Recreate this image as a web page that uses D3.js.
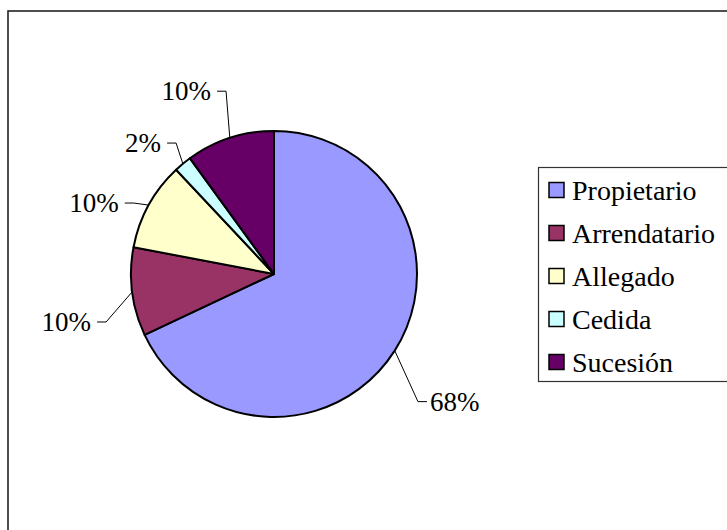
<!DOCTYPE html>
<html>
<head>
<meta charset="utf-8">
<script src="https://cdn.jsdelivr.net/npm/d3@7"></script>
</head>
<body style="margin:0;background:#fff">
<svg id="chart" width="727" height="530" style="font-family:'Liberation Serif'"></svg>
<script>
// ---- data ----
const categories = ["Propietario", "Arrendatario", "Allegado", "Cedida", "Sucesión"];
const values = [68, 10, 10, 2, 10];
const colors = ["#9999FF", "#993366", "#FFFFCC", "#CCFFFF", "#660066"];
// small nudges of each data label away from its default radial position
const labelNudge = [[-4, 28], [7.5, 24.7], [13.7, 18.6], [11.6, 12.3], [0.5, -6]];

// ---- layout ----
const W = 727, H = 530;
const cx = 274, cy = 274, R = 143;
const svg = d3.select("#chart");

// outer chart frame (extends beyond the visible area right/bottom)
svg.append("rect")
  .attr("x", 8).attr("y", 11)
  .attr("width", W + 20).attr("height", H + 20)
  .attr("fill", "#fff").attr("stroke", "#222").attr("stroke-width", 1.6);

const total = d3.sum(values);
const pie = d3.pie().sort(null).value(d => d.value).startAngle(0).endAngle(2 * Math.PI);
const data = pie(categories.map((c, i) => ({ name: c, value: values[i], color: colors[i], i })));
const arc = d3.arc().innerRadius(0).outerRadius(R);

const g = svg.append("g").attr("transform", `translate(${cx},${cy})`);
g.selectAll("path.slice")
  .data(data)
  .join("path")
  .attr("class", "slice")
  .attr("d", arc)
  .attr("fill", d => d.data.color)
  .attr("stroke", "#000")
  .attr("stroke-width", 2)
  .attr("stroke-linejoin", "round");

// data labels with leader lines
const pt = (a, r) => [r * Math.sin(a), -r * Math.cos(a)];
const fmt = v => Math.round(v / total * 100) + "%";
data.forEach((d, i) => {
  const mid = (d.startAngle + d.endAngle) / 2;
  const edge = pt(mid, R);
  const base = pt(mid, R * 1.3);
  const anchor = [base[0] + labelNudge[i][0], base[1] + labelNudge[i][1]];
  const right = Math.sin(mid) > 0;
  const elbow = [anchor[0] + (right ? -9 : 9), anchor[1]];
  g.append("polyline")
    .attr("points", [edge, elbow, anchor].map(p => p.join(",")).join(" "))
    .attr("fill", "none").attr("stroke", "#000").attr("stroke-width", 1);
  svg.append("text")
    .attr("x", cx + anchor[0] + (right ? 3 : -6))
    .attr("y", cy + anchor[1] + 9)
    .attr("text-anchor", right ? "start" : "end")
    .style("font-family", "'Liberation Serif'")
    .style("font-size", "27px")
    .text(fmt(d.data.value));
});

// legend
const lg = svg.append("g");
lg.append("rect")
  .attr("x", 538.5).attr("y", 167.5)
  .attr("width", 220).attr("height", 214)
  .attr("fill", "#fff").attr("stroke", "#333").attr("stroke-width", 1.2);
const rowY = d3.scalePoint().domain(categories).range([190, 362]);
categories.forEach((c, i) => {
  lg.append("rect")
    .attr("x", 549).attr("y", rowY(c) - 7.5).attr("width", 15).attr("height", 15)
    .attr("fill", colors[i]).attr("stroke", "#000").attr("stroke-width", 1.5);
  svg.append("text")
    .attr("x", 572).attr("y", rowY(c) + 9.5)
    .style("font-family", "'Liberation Serif'")
    .style("font-size", "28px")
    .text(c);
});
</script>
</body>
</html>
